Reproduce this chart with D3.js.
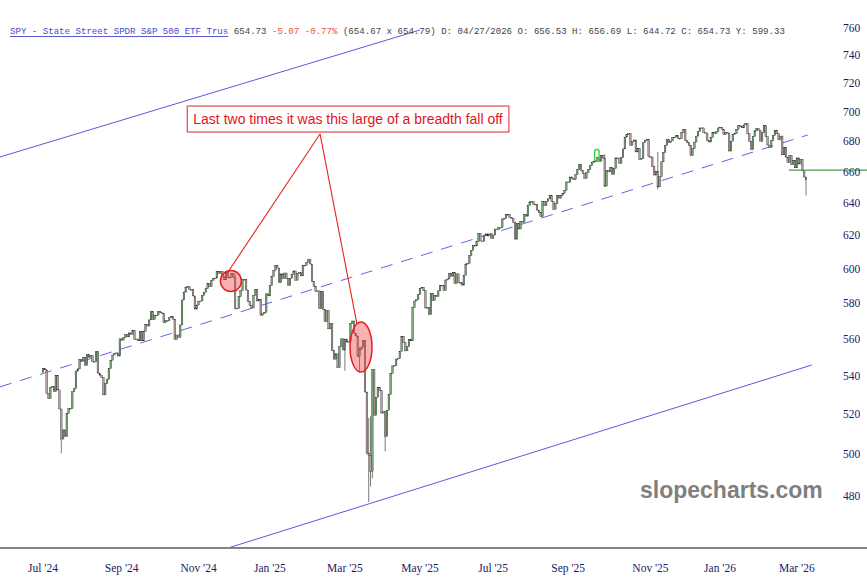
<!DOCTYPE html>
<html><head><meta charset="utf-8">
<script src="https://cdn.jsdelivr.net/npm/d3@7"></script>
<style>html,body{margin:0;padding:0;background:#fff;} svg{display:block;}</style>
</head><body>
<svg id="chart" width="867" height="588"></svg>
<script>
// ---- daily closes (dividend-adjusted) ----
const closeJul24 = [544.1,543.3,530.9,528.2,534.1,534.4,531.7,540.3];
const closeAug24 = [532.7,522.8,507.6,512.2,508.8,520.6,522.9,523.1,531.7,533.4,542.6,543.8,549.0,548.1,550.0,545.7,551.4,550.1,550.9,547.7,547.7,553.0];
const closeSep24 = [541.6,540.5,539.2,530.1,536.0,538.4,543.9,548.5,551.3,552.1,552.4,550.7,560.1,559.4,560.8,562.4,561.2,563.4,562.6,564.9];
const closeOct24 = [559.8,560.0,559.0,564.1,559.0,564.3,568.2,567.2,570.6,575.3,570.8,573.3,573.3,575.5,574.6,574.3,569.0,570.3,570.1,571.8,572.7,571.0,559.8];
const closeNov24 = [562.2,561.0,567.8,581.9,586.4,588.9,589.5,587.9,587.9,584.2,576.7,579.0,581.2,581.3,584.5,586.3,588.3,591.3,589.5,593.2];
const closeDec24 = [594.3,594.5,598.2,597.3,598.4,595.3,593.5,598.0,595.0,594.8,597.4,594.9,577.2,577.0,583.8,587.3,593.8,593.8,587.6,580.9,578.8];
const closeJan25 = [577.3,584.6,587.9,581.3,582.1,573.2,574.1,574.9,585.4,584.2,590.1,595.5,598.9,602.1,600.4,591.9,597.0,594.3,597.5,594.3];
const closeFeb25 = [590.3,594.3,596.7,598.7,593.3,597.3,597.7,595.8,602.1,602.1,603.9,605.3,602.8,592.4,589.7,586.8,587.1,577.0,586.8];
const closeMar25 = [576.5,569.7,575.8,565.6,568.7,553.6,549.0,551.9,544.5,555.8,560.1,554.0,560.0,558.4,558.6,568.6,570.0,563.2,561.7,550.4,554.1];
const closeApr25 = [555.6,559.2,531.6,500.5,499.6,491.8,543.4,519.6,528.9,534.0,532.5,520.7,521.4,509.0,522.2,530.3,541.5,545.4,545.6,549.1,549.3];
const closeMay25 = [553.2,561.4,558.2,553.5,555.8,559.7,559.0,577.5,581.3,582.0,584.9,588.6,589.2,587.2,577.3,577.6,573.6,585.5,581.6,584.5,583.8];
const closeJun25 = [587.1,590.4,590.3,587.4,593.4,594.0,597.3,595.6,598.0,591.3,597.0,591.9,591.8,590.4,596.2,602.8,603.2,607.9,610.9,613.8];
const closeJul25 = [613.6,616.4,621.3,616.6,616.3,620.0,620.9,619.6,620.8,618.1,620.2,623.9,623.5,624.7,624.8,630.1,630.3,632.9,632.8,631.1,630.3,628.0];
const closeAug25 = [617.7,627.1,623.9,628.7,628.1,633.0,631.8,638.5,640.7,640.8,639.3,639.1,635.6,634.0,631.4,641.1,638.3,641.0,642.6,644.7,640.9];
const closeSep25 = [636.1,639.6,644.9,643.0,644.6,646.1,648.0,653.4,653.1,656.6,655.7,654.9,658.0,661.4,664.5,660.9,658.8,655.7,659.5,661.4,663.9];
const closeOct25 = [666.1,666.9,666.9,669.3,666.8,670.8,668.8,650.7,660.7,659.9,662.8,658.3,662.1,669.0,668.9,665.5,669.4,674.9,682.8,684.6,685.0,677.4,679.7];
const closeNov25 = [680.9,672.9,675.2,668.0,668.6,679.0,680.6,681.0,669.7,669.6,663.3,657.8,660.3,650.2,656.7,666.4,672.7,677.3,681.0];
const closeDec25 = [679.0,680.2,682.5,682.8,684.0,682.0,681.8,686.0,688.0,680.5,679.0,677.0,670.5,675.0,679.5,683.5,686.5,689.0,689.0,686.0,685.5,680.5];
const closeJan26 = [679.5,682.5,686.0,685.0,686.5,689.0,689.5,688.0,684.5,686.0,685.5,673.5,680.0,684.5,685.0,688.0,690.5,690.0,689.0,691.0];
const closeFeb26 = [692.0,685.0,680.0,674.5,683.0,687.0,688.5,687.5,680.0,686.0,690.5,683.0,677.5,676.0,680.5,684.0,687.5,685.0,681.0];
const closeMar26 = [683.5,671.0,676.0,669.5,666.0,670.5,664.5,667.5,662.5,669.0,665.0,668.0,660.5,656.5,654.73];

const firstOpen = 542.0;
// bars with visible wicks beyond the body: [barIndex, high, low]
const wickBars = [[10,513.6,500.6],[105,597.0,576.5],[165,553.0,542.8],[173,555.5,541.7],[177,520.9,500.3],[178,518.2,477.2],[179,519.0,484.5],[180,543.4,488.3],[187,512.0,501.5],[307,671.5,650.5],[336,673.0,648.6],[417,656.69,644.72]];
const lastBarOpen = 656.53;

// axis labels
const yTickValues = [480,500,520,540,560,580,600,620,640,660,680,700,720,740,760];
const xTickLabels = ["Jul '24","Sep '24","Nov '24","Jan '25","Mar '25","May '25","Jul '25","Sep '25","Nov '25","Jan '26","Mar '26"];
const xTickBars   = [0,43,85,124,165,206,246,287,332,370,412];

// drawn lines: [barIndex, price] endpoints
const upperChannel = [[-23.5,669.6],[206.0,758.5]];
const midTrend     = [[-23.5,534.3],[418.0,684.2]];
const lowerChannel = [[101.1,456.1],[420.2,545.9]];
const supportLine  = [[407.6,661.0],[451.0,661.0]];
const highlightBar = {bar: 302.7, high: 674.5, low: 667.0};

// annotation (data anchors)
const noteText = "Last two times it was this large of a breadth fall off";
const noteAnchor = [166.7, 695.0];
const noteApex = [151.4, 684.9];
const noteTargets = [[101.1, 598.1],[171.6, 568.2]];
const noteCircles = [{bar:102.7, price:592.8, rx:10.5, ry:10.5},{bar:173.8, price:555.6, rx:11, ry:25}];

const headerParts = [
  {t:"SPY - State Street SPDR S&P 500 ETF Trus", c:"#4a4ac8"},
  {t:" 654.73", c:"#444"},
  {t:" -5.07 -0.77%", c:"#e8524a"},
  {t:" (654.67 x 654.79) D: 04/27/2026 O: 656.53 H: 656.69 L: 644.72 C: 654.73 Y: 599.33", c:"#444"}
];

// ---- build OHLC ----
const closes = [].concat(closeJul24,closeAug24,closeSep24,closeOct24,closeNov24,closeDec24,
  closeJan25,closeFeb25,closeMar25,closeApr25,closeMay25,closeJun25,closeJul25,closeAug25,
  closeSep25,closeOct25,closeNov25,closeDec25,closeJan26,closeFeb26,closeMar26);
const N = closes.length;
const bars = closes.map((c,i)=>{
  let o = i===0 ? firstOpen : closes[i-1];
  if (i===N-1) o = lastBarOpen;
  return {i, o, c, h: Math.max(o,c), l: Math.min(o,c)};
});
wickBars.forEach(([i,h,l])=>{ if(bars[i]){ bars[i].h=Math.max(bars[i].h,h); bars[i].l=Math.min(bars[i].l,l);} });

const svg = d3.select("#chart");
const W = 867, H = 588, axisY = 548;
const x = d3.scaleLinear().domain([0, N-1]).range([43, 806]);
const y = d3.scaleLog().domain([480, 760]).range([496, 28]);

svg.append("rect").attr("width",W).attr("height",H).attr("fill","#fff");
svg.append("clipPath").attr("id","plotclip").append("rect").attr("x",0).attr("y",0).attr("width",W).attr("height",axisY);
const plot = svg.append("g").attr("clip-path","url(#plotclip)");

// trend lines
const lineGen = d3.line().x(d=>x(d[0])).y(d=>y(d[1]));
plot.append("path").attr("d",lineGen(upperChannel)).attr("stroke","#5a5ad8").attr("stroke-width",1).attr("fill","none");
plot.append("path").attr("d",lineGen(lowerChannel)).attr("stroke","#5a5ad8").attr("stroke-width",1).attr("fill","none");
plot.append("path").attr("d",lineGen(midTrend)).attr("stroke","#6464e6").attr("stroke-width",1).attr("stroke-dasharray","12,9").attr("fill","none");

// candles
const cg = plot.append("g");
cg.selectAll("line.w").data(bars).join("line").attr("class","w")
  .attr("x1",d=>x(d.i)).attr("x2",d=>x(d.i))
  .attr("y1",d=>y(d.h)).attr("y2",d=>y(d.l))
  .attr("stroke","#222").attr("stroke-width",0.6);
cg.selectAll("rect.b").data(bars).join("rect").attr("class","b")
  .attr("x",d=>x(d.i)-0.8).attr("width",1.6)
  .attr("y",d=>y(Math.max(d.o,d.c)))
  .attr("height",d=>Math.max(0.8, y(Math.min(d.o,d.c))-y(Math.max(d.o,d.c))))
  .attr("fill",d=>d.c>=d.o ? "#78aa78" : "#b89ea2")
  .attr("stroke","#222").attr("stroke-width",0.35);

// highlighted bar
plot.append("rect")
  .attr("x",x(highlightBar.bar)-2.2).attr("width",4.4)
  .attr("y",y(highlightBar.high)).attr("height",y(highlightBar.low)-y(highlightBar.high))
  .attr("rx",2).attr("fill","none").attr("stroke","#3ccf3c").attr("stroke-width",1.4);

// support line (green)
svg.append("path").attr("d",lineGen(supportLine)).attr("stroke","#4f9a4f").attr("stroke-width",1.3).attr("fill","none");

// annotation circles
noteCircles.forEach(c=>{
  plot.append("ellipse").attr("cx",x(c.bar)).attr("cy",y(c.price)).attr("rx",c.rx).attr("ry",c.ry)
    .attr("fill","rgba(240,70,70,0.42)").attr("stroke","#e32020").attr("stroke-width",1.5);
});
// pointer lines
noteTargets.forEach(t=>{
  svg.append("line").attr("x1",x(noteApex[0])).attr("y1",y(noteApex[1]))
    .attr("x2",x(t[0])).attr("y2",y(t[1])).attr("stroke","#e52222").attr("stroke-width",1.1);
});
// annotation box
const ng = svg.append("g");
const nt = ng.append("text").attr("x",x(noteAnchor[0])).attr("y",y(noteAnchor[1]))
  .attr("text-anchor","middle").attr("dominant-baseline","central")
  .attr("font-family","'Liberation Sans', Arial, sans-serif").attr("font-size",14)
  .attr("fill","#e2141c").text(noteText);
const bb = nt.node().getBBox();
ng.insert("rect","text").attr("x",bb.x-6).attr("y",y(noteAnchor[1])-13).attr("width",bb.width+12).attr("height",26)
  .attr("fill","#fff").attr("stroke","#e45a5a").attr("stroke-width",1.3);

// x axis
svg.append("line").attr("x1",0).attr("x2",W).attr("y1",axisY).attr("y2",axisY).attr("stroke","#858585").attr("stroke-width",2.2);
svg.selectAll("text.xt").data(xTickLabels).join("text").attr("class","xt")
  .attr("x",(d,k)=>x(xTickBars[k])).attr("y",572).attr("text-anchor","middle")
  .attr("font-family","'Liberation Serif', 'Times New Roman', serif").attr("font-size",11.5)
  .attr("fill","#1a1a66").text(d=>d);

// y axis labels
svg.selectAll("text.yt").data(yTickValues).join("text").attr("class","yt")
  .attr("x",843).attr("y",d=>y(d)).attr("dominant-baseline","central")
  .attr("font-family","'Liberation Serif', 'Times New Roman', serif").attr("font-size",11.5)
  .attr("fill","#1a1a66").text(d=>d);

// header
const ht = svg.append("text").attr("x",10).attr("y",34).attr("xml:space","preserve")
  .attr("font-family","'Liberation Mono', 'Courier New', monospace").attr("font-size",9.1);
headerParts.forEach(p=>{ ht.append("tspan").attr("fill",p.c).text(p.t); });
const titleLen = ht.node().getSubStringLength(0, headerParts[0].t.length);
svg.append("line").attr("x1",10).attr("x2",10+titleLen).attr("y1",36.5).attr("y2",36.5).attr("stroke","#4a4ac8").attr("stroke-width",0.9);

// watermark
svg.append("text").attr("x",640).attr("y",498)
  .attr("font-family","'Liberation Sans', Arial, sans-serif").attr("font-weight","bold").attr("font-size",23)
  .attr("fill","#7f7f7f").text("slopecharts.com");
</script>
</body></html>
